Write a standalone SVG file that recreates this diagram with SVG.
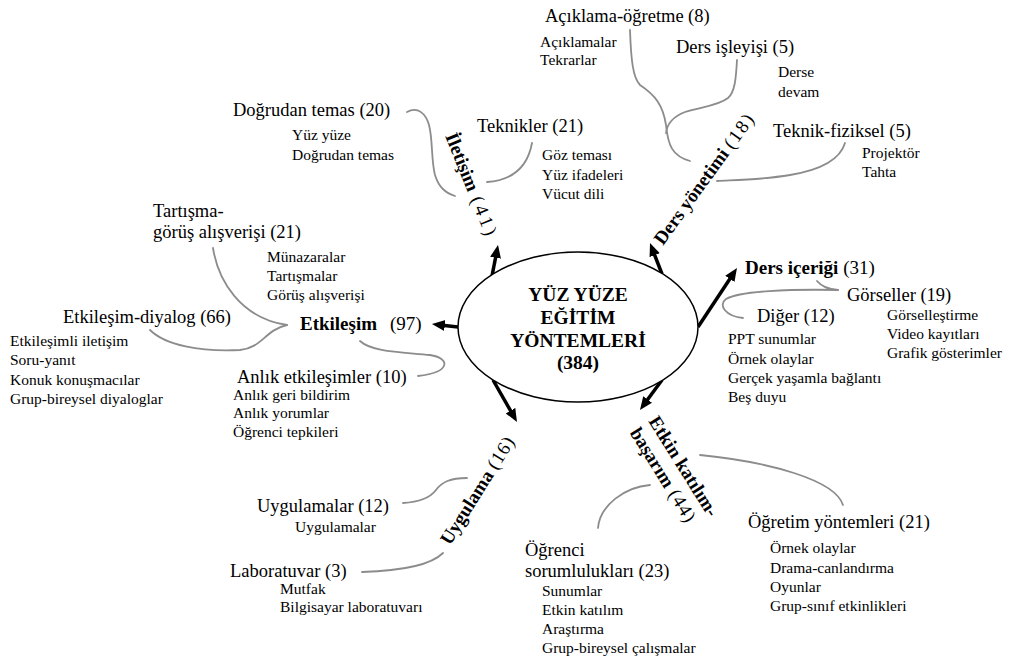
<svg xmlns="http://www.w3.org/2000/svg" width="1015" height="660" viewBox="0 0 1015 660" font-family="'Liberation Serif', 'Times New Roman', serif">
<style>
.sub{font-size:18.5px}
.it{font-size:15.5px}
.cat{font-size:19px}
.ctr{font-size:19.5px;font-weight:bold;text-anchor:middle}
.b{font-weight:bold}
.con{fill:none;stroke:#8c8c8c;stroke-width:1.8;stroke-linecap:round}
.arr{stroke:#000;stroke-width:3.5;marker-end:url(#ah)}
</style>
<defs>
<marker id="ah" markerUnits="userSpaceOnUse" markerWidth="14" markerHeight="12" refX="5" refY="5.5" orient="auto">
<path d="M0,0 L13,5.5 L0,11 z" fill="#000"/>
</marker>
</defs>
<rect width="1015" height="660" fill="#fff"/>

<g id="connectors">
<line class="arr" x1="492" y1="276" x2="496.5" y2="252.8"/>
<line class="arr" x1="662" y1="274" x2="652.9" y2="250.5"/>
<line class="arr" x1="698" y1="327" x2="732.6" y2="274.7"/>
<line class="arr" x1="458" y1="327" x2="439.9" y2="324.9"/>
<line class="arr" x1="493" y1="380" x2="513" y2="415"/>
<line class="arr" x1="662" y1="380" x2="644.7" y2="403.5"/>
<path class="con" d="M630,30 C631,60 633,78 640,85 C655,95 663,105 666,125 C668,145 672,156 690,161"/>
<path class="con" d="M737,60 C736,78 735,92 728,98 C718,106 700,107 685,112 C672,117 667,125 666,133"/>
<path class="con" d="M845,143 C840,160 820,170 790,175 C760,180 735,180 717,181"/>
<path class="con" d="M407,112 C418,106 426,114 429,125 C433,140 431,160 435,175 C439,188 446,193 455,196"/>
<path class="con" d="M532,143 C528,165 515,180 487,182"/>
<path class="con" d="M213,248 C218,280 240,318 287,325"/>
<path class="con" d="M150,330 C165,345 200,352 240,350 C262,348 265,330 287,325"/>
<path class="con" d="M360,341 C372,352 400,352 430,355 C450,358 452,372 418,376"/>
<path class="con" d="M838,290 C790,289 740,291 726,299 C718,305 725,316 743,318"/>
<path class="con" d="M817,281 C822,287 828,289 838,290"/>
<path class="con" d="M403,503 C420,502 430,498 436,490 C442,482 450,478 467,478"/>
<path class="con" d="M362,572 C395,571 430,566 443,553"/>
<path class="con" d="M700,455 C770,462 835,480 843,505"/>
<path class="con" d="M650,485 C625,487 600,505 598,528"/>
</g>

<g id="center">
<ellipse cx="578" cy="327" rx="120" ry="75" fill="#fff" stroke="#000" stroke-width="1.5"/>
<text class="ctr" x="578" y="301">YÜZ YÜZE</text>
<text class="ctr" x="578" y="324">EĞİTİM</text>
<text class="ctr" x="578" y="347">YÖNTEMLERİ</text>
<text class="ctr" x="578" y="369">(384)</text>
</g>

<g id="iletisim">
<text class="cat" transform="translate(445,136) rotate(68)"><tspan class="b">İletişim</tspan><tspan dx="7" letter-spacing="3">(41)</tspan></text>
<text class="sub" x="233" y="116">Doğrudan temas (20)</text>
<text class="it" x="292" y="140">Yüz yüze</text>
<text class="it" x="292" y="160">Doğrudan temas</text>
<text class="sub" x="477" y="132">Teknikler (21)</text>
<text class="it" x="542" y="160">Göz teması</text>
<text class="it" x="542" y="180">Yüz ifadeleri</text>
<text class="it" x="542" y="199">Vücut dili</text>
</g>

<g id="ders-yonetimi">
<text class="cat" transform="translate(663,246) rotate(-54)"><tspan class="b">Ders yönetimi</tspan><tspan dx="5" letter-spacing="2">(18)</tspan></text>
<text class="sub" x="545" y="22" font-size="18">Açıklama-öğretme</text>
<text class="sub" x="688" y="22" font-size="18">(8)</text>
<text class="it" x="540" y="47">Açıklamalar</text>
<text class="it" x="540" y="65">Tekrarlar</text>
<text class="sub" x="676" y="53">Ders işleyişi (5)</text>
<text class="it" x="778" y="77">Derse</text>
<text class="it" x="778" y="97">devam</text>
<text class="sub" x="773" y="137">Teknik-fiziksel (5)</text>
<text class="it" x="862" y="158">Projektör</text>
<text class="it" x="862" y="177">Tahta</text>
</g>

<g id="ders-icerigi">
<text class="cat" x="745" y="274"><tspan class="b">Ders içeriği</tspan> (31)</text>
<text class="sub" x="847" y="301">Görseller (19)</text>
<text class="it" x="887" y="320">Görselleştirme</text>
<text class="it" x="887" y="339">Video kayıtları</text>
<text class="it" x="887" y="358">Grafik gösterimler</text>
<text class="sub" x="757" y="322">Diğer (12)</text>
<text class="it" x="728" y="344">PPT sunumlar</text>
<text class="it" x="728" y="364">Örnek olaylar</text>
<text class="it" x="728" y="383">Gerçek yaşamla bağlantı</text>
<text class="it" x="728" y="402">Beş duyu</text>
</g>

<g id="etkilesim">
<text class="cat" x="300" y="330"><tspan class="b">Etkileşim</tspan> <tspan x="390">(97)</tspan></text>
<text class="sub" x="153" y="217">Tartışma-</text>
<text class="sub" x="153" y="238">görüş alışverişi (21)</text>
<text class="it" x="267" y="262">Münazaralar</text>
<text class="it" x="267" y="281">Tartışmalar</text>
<text class="it" x="267" y="300">Görüş alışverişi</text>
<text class="sub" x="63" y="323">Etkileşim-diyalog (66)</text>
<text class="it" x="10" y="346">Etkileşimli iletişim</text>
<text class="it" x="10" y="365">Soru-yanıt</text>
<text class="it" x="10" y="385">Konuk konuşmacılar</text>
<text class="it" x="10" y="404">Grup-bireysel diyaloglar</text>
<text class="sub" x="237" y="383">Anlık etkileşimler (10)</text>
<text class="it" x="233" y="400">Anlık geri bildirim</text>
<text class="it" x="233" y="418">Anlık yorumlar</text>
<text class="it" x="233" y="437">Öğrenci tepkileri</text>
</g>

<g id="uygulama">
<text class="cat" transform="translate(450,546) rotate(-58)"><tspan class="b">Uygulama</tspan><tspan dx="5" letter-spacing="1">(16)</tspan></text>
<text class="sub" x="257" y="512">Uygulamalar (12)</text>
<text class="it" x="295" y="532">Uygulamalar</text>
<text class="sub" x="230" y="577">Laboratuvar (3)</text>
<text class="it" x="280" y="594">Mutfak</text>
<text class="it" x="280" y="612">Bilgisayar laboratuvarı</text>
</g>

<g id="etkin-katilim">
<text class="cat" transform="translate(648,421) rotate(58)"><tspan class="b">Etkin katılım-</tspan><tspan x="0" dy="22" class="b">başarım</tspan><tspan dx="6" letter-spacing="1">(44)</tspan></text>
<text class="sub" x="525" y="556">Öğrenci</text>
<text class="sub" x="525" y="577">sorumlulukları (23)</text>
<text class="it" x="542" y="596">Sunumlar</text>
<text class="it" x="542" y="615">Etkin katılım</text>
<text class="it" x="542" y="634">Araştırma</text>
<text class="it" x="542" y="653">Grup-bireysel çalışmalar</text>
<text class="sub" x="748" y="528">Öğretim yöntemleri (21)</text>
<text class="it" x="770" y="553">Örnek olaylar</text>
<text class="it" x="770" y="573">Drama-canlandırma</text>
<text class="it" x="770" y="592">Oyunlar</text>
<text class="it" x="770" y="611">Grup-sınıf etkinlikleri</text>
</g>
</svg>
